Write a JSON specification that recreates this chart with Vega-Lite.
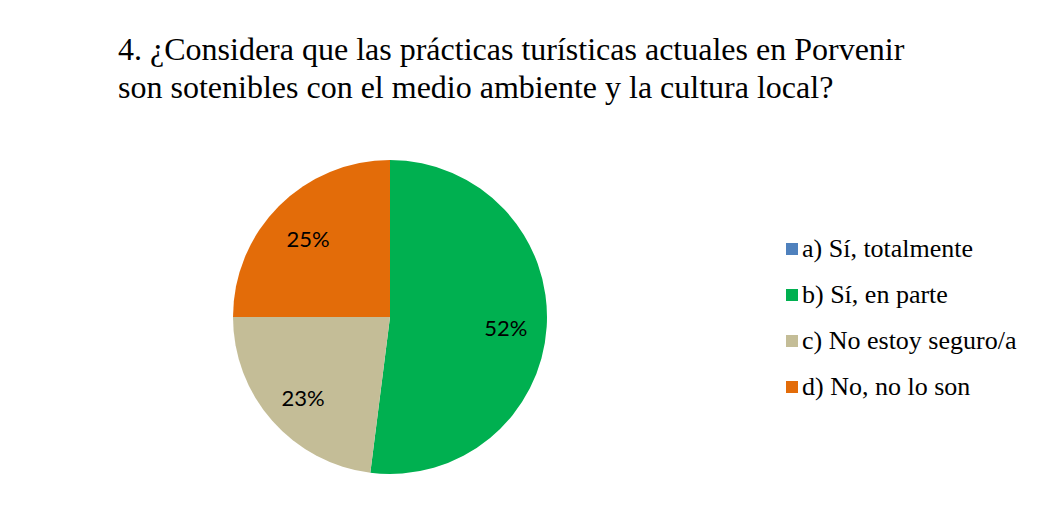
{
  "$schema": "https://vega.github.io/schema/vega-lite/v6.json",
  "width": 314,
  "height": 314,
  "autosize": "none",
  "padding": {"left": 233, "top": 160, "right": 493, "bottom": 53},
  "background": "white",
  "title": {
    "text": ["4. ¿Considera que las prácticas turísticas actuales en Porvenir", "son sotenibles con el medio ambiente y la cultura local?"],
    "anchor": "start",
    "frame": "group",
    "dx": -115,
    "offset": 30,
    "font": "Liberation Serif",
    "fontSize": 32,
    "fontWeight": "normal",
    "lineHeight": 38,
    "color": "black",
    "baseline": "alphabetic"
  },
  "data": {
    "values": [
      {"option": "a) Sí, totalmente", "value": 0, "label": "0%"},
      {"option": "b) Sí, en parte", "value": 52, "label": "52%"},
      {"option": "c) No estoy seguro/a", "value": 23, "label": "23%"},
      {"option": "d) No, no lo son", "value": 25, "label": "25%"}
    ]
  },
  "layer": [
    {
      "mark": {"type": "arc"},
      "encoding": {
        "theta": {"field": "value", "type": "quantitative", "stack": true},
        "order": {"field": "option", "sort": "ascending"},
        "color": {
          "field": "option",
          "type": "nominal",
          "scale": {
            "domain": ["a) Sí, totalmente", "b) Sí, en parte", "c) No estoy seguro/a", "d) No, no lo son"],
            "range": ["#4F81BD", "#00B050", "#C4BD97", "#E36C09"]
          },
          "legend": {
            "title": null,
            "orient": "none",
            "legendX": 546,
            "legendY": 76,
            "symbolType": "square",
            "symbolSize": 144,
            "symbolStrokeWidth": 0,
            "labelFont": "Liberation Serif",
            "labelFontSize": 26,
            "labelColor": "black",
            "labelOffset": -3,
            "rowPadding": 20,
            "labelLimit": 400
          }
        }
      }
    },
    {
      "transform": [{"filter": "datum.value > 0"}],
      "mark": {"type": "text", "radius": 116, "dy": 5, "font": "Lato", "fontSize": 22, "color": "black"},
      "encoding": {
        "theta": {"field": "value", "type": "quantitative", "stack": true},
        "order": {"field": "option", "sort": "ascending"},
        "text": {"field": "label", "type": "nominal"}
      }
    }
  ]
}
